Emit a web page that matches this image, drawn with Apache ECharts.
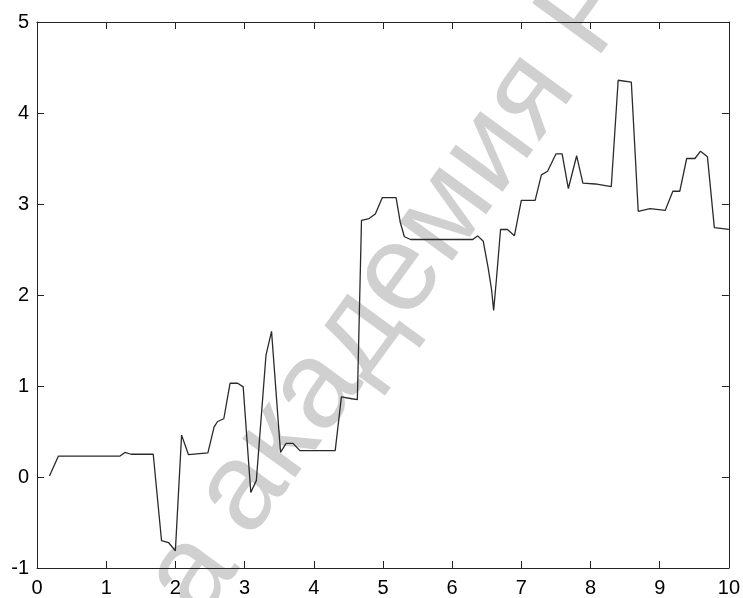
<!DOCTYPE html>
<html>
<head>
<meta charset="utf-8">
<script src="https://cdn.jsdelivr.net/npm/echarts@6/dist/echarts.min.js"></script>
<style>
html,body{margin:0;padding:0;background:#fff;}
#chart{width:743px;height:598px;}
</style>
</head>
<body>
<div id="chart"></div>
<script>
var xValues = [0.18,0.31,1.20,1.27,1.36,1.68,1.80,1.90,2.00,2.09,2.19,2.47,2.56,2.61,2.70,2.79,2.90,2.98,3.09,3.17,3.31,3.39,3.52,3.60,3.70,3.80,4.31,4.40,4.55,4.63,4.69,4.80,4.89,4.99,5.19,5.25,5.31,5.40,6.30,6.37,6.45,6.52,6.57,6.60,6.64,6.70,6.80,6.90,7.00,7.20,7.29,7.38,7.50,7.59,7.68,7.80,7.89,8.07,8.30,8.40,8.59,8.69,8.86,9.08,9.19,9.29,9.39,9.51,9.59,9.69,9.79,10.0];
var yValues = [0.01,0.23,0.23,0.27,0.25,0.25,-0.70,-0.72,-0.81,0.46,0.245,0.265,0.55,0.61,0.64,1.03,1.03,0.99,-0.17,-0.04,1.34,1.60,0.27,0.37,0.37,0.29,0.29,0.88,0.86,0.85,2.82,2.84,2.89,3.07,3.07,2.80,2.64,2.61,2.61,2.65,2.59,2.30,2.06,1.83,2.17,2.72,2.72,2.65,3.04,3.04,3.32,3.36,3.55,3.55,3.17,3.53,3.23,3.22,3.19,4.36,4.34,2.92,2.95,2.93,3.14,3.14,3.50,3.50,3.58,3.52,2.74,2.72];
var xTicks = ['0','1','2','3','4','5','6','7','8','9','10'];
var yTicks = ['-1','0','1','2','3','4','5'];
var watermarkParts = ['а', 'академия', 'Р'];

var seriesData = xValues.map(function(x, i){ return [x, yValues[i]]; });
var axisColor = '#222';
var labelFont = { color: '#000', fontSize: 20, fontFamily: "'Liberation Sans Narrow','Liberation Sans',Arial,sans-serif" };

function baseX(pos, showLabel){
  return {
    type: 'value', position: pos, min: 0, max: 10, interval: 1,
    axisLine: { show: true, onZero: false, lineStyle: { color: axisColor, width: 1 } },
    axisTick: { show: true, inside: true, length: 7, lineStyle: { color: axisColor } },
    axisLabel: Object.assign({ show: showLabel, margin: 10, formatter: function(v){ return xTicks[Math.round(v)]; } }, labelFont),
    splitLine: { show: false }
  };
}
function baseY(pos, showLabel){
  return {
    type: 'value', position: pos, min: -1, max: 5, interval: 1,
    axisLine: { show: true, onZero: false, lineStyle: { color: axisColor, width: 1 } },
    axisTick: { show: true, inside: true, length: 7, lineStyle: { color: axisColor } },
    axisLabel: Object.assign({ show: showLabel, margin: 8, formatter: function(v){ return yTicks[Math.round(v) + 1]; } }, labelFont),
    splitLine: { show: false }
  };
}

var ang = 54 * Math.PI / 180;
var wmFont = "124px 'Liberation Sans',Arial,sans-serif";
var wmColor = '#d0d0d0';
var chart = echarts.init(document.getElementById('chart'), null, { renderer: 'canvas' });
chart.setOption({
  animation: false,
  backgroundColor: '#fff',
  grid: { left: 37, right: 8, top: 22, bottom: 29, containLabel: false },
  xAxis: [baseX('bottom', true), baseX('top', false)],
  yAxis: [baseY('left', true), baseY('right', false)],
  graphic: [
    { type: 'text', z: -10, x: 192, y: 575, rotation: ang, style: { text: watermarkParts[0], fill: wmColor, font: wmFont, textAlign: 'center', textVerticalAlign: 'middle' } },
    { type: 'text', z: -10, x: 386, y: 294, rotation: ang, style: { text: watermarkParts[1], fill: wmColor, font: wmFont, textAlign: 'center', textVerticalAlign: 'middle' } },
    { type: 'text', z: -10, x: 592, y: 8, rotation: ang, style: { text: watermarkParts[2], fill: wmColor, font: wmFont, textAlign: 'center', textVerticalAlign: 'middle' } }
  ],
  series: [{
    type: 'line', xAxisIndex: 0, yAxisIndex: 0, data: seriesData,
    showSymbol: false, symbol: 'none', smooth: false,
    lineStyle: { color: '#2a2a2a', width: 1.3 }, z: 5
  }]
});
</script>
</body>
</html>
